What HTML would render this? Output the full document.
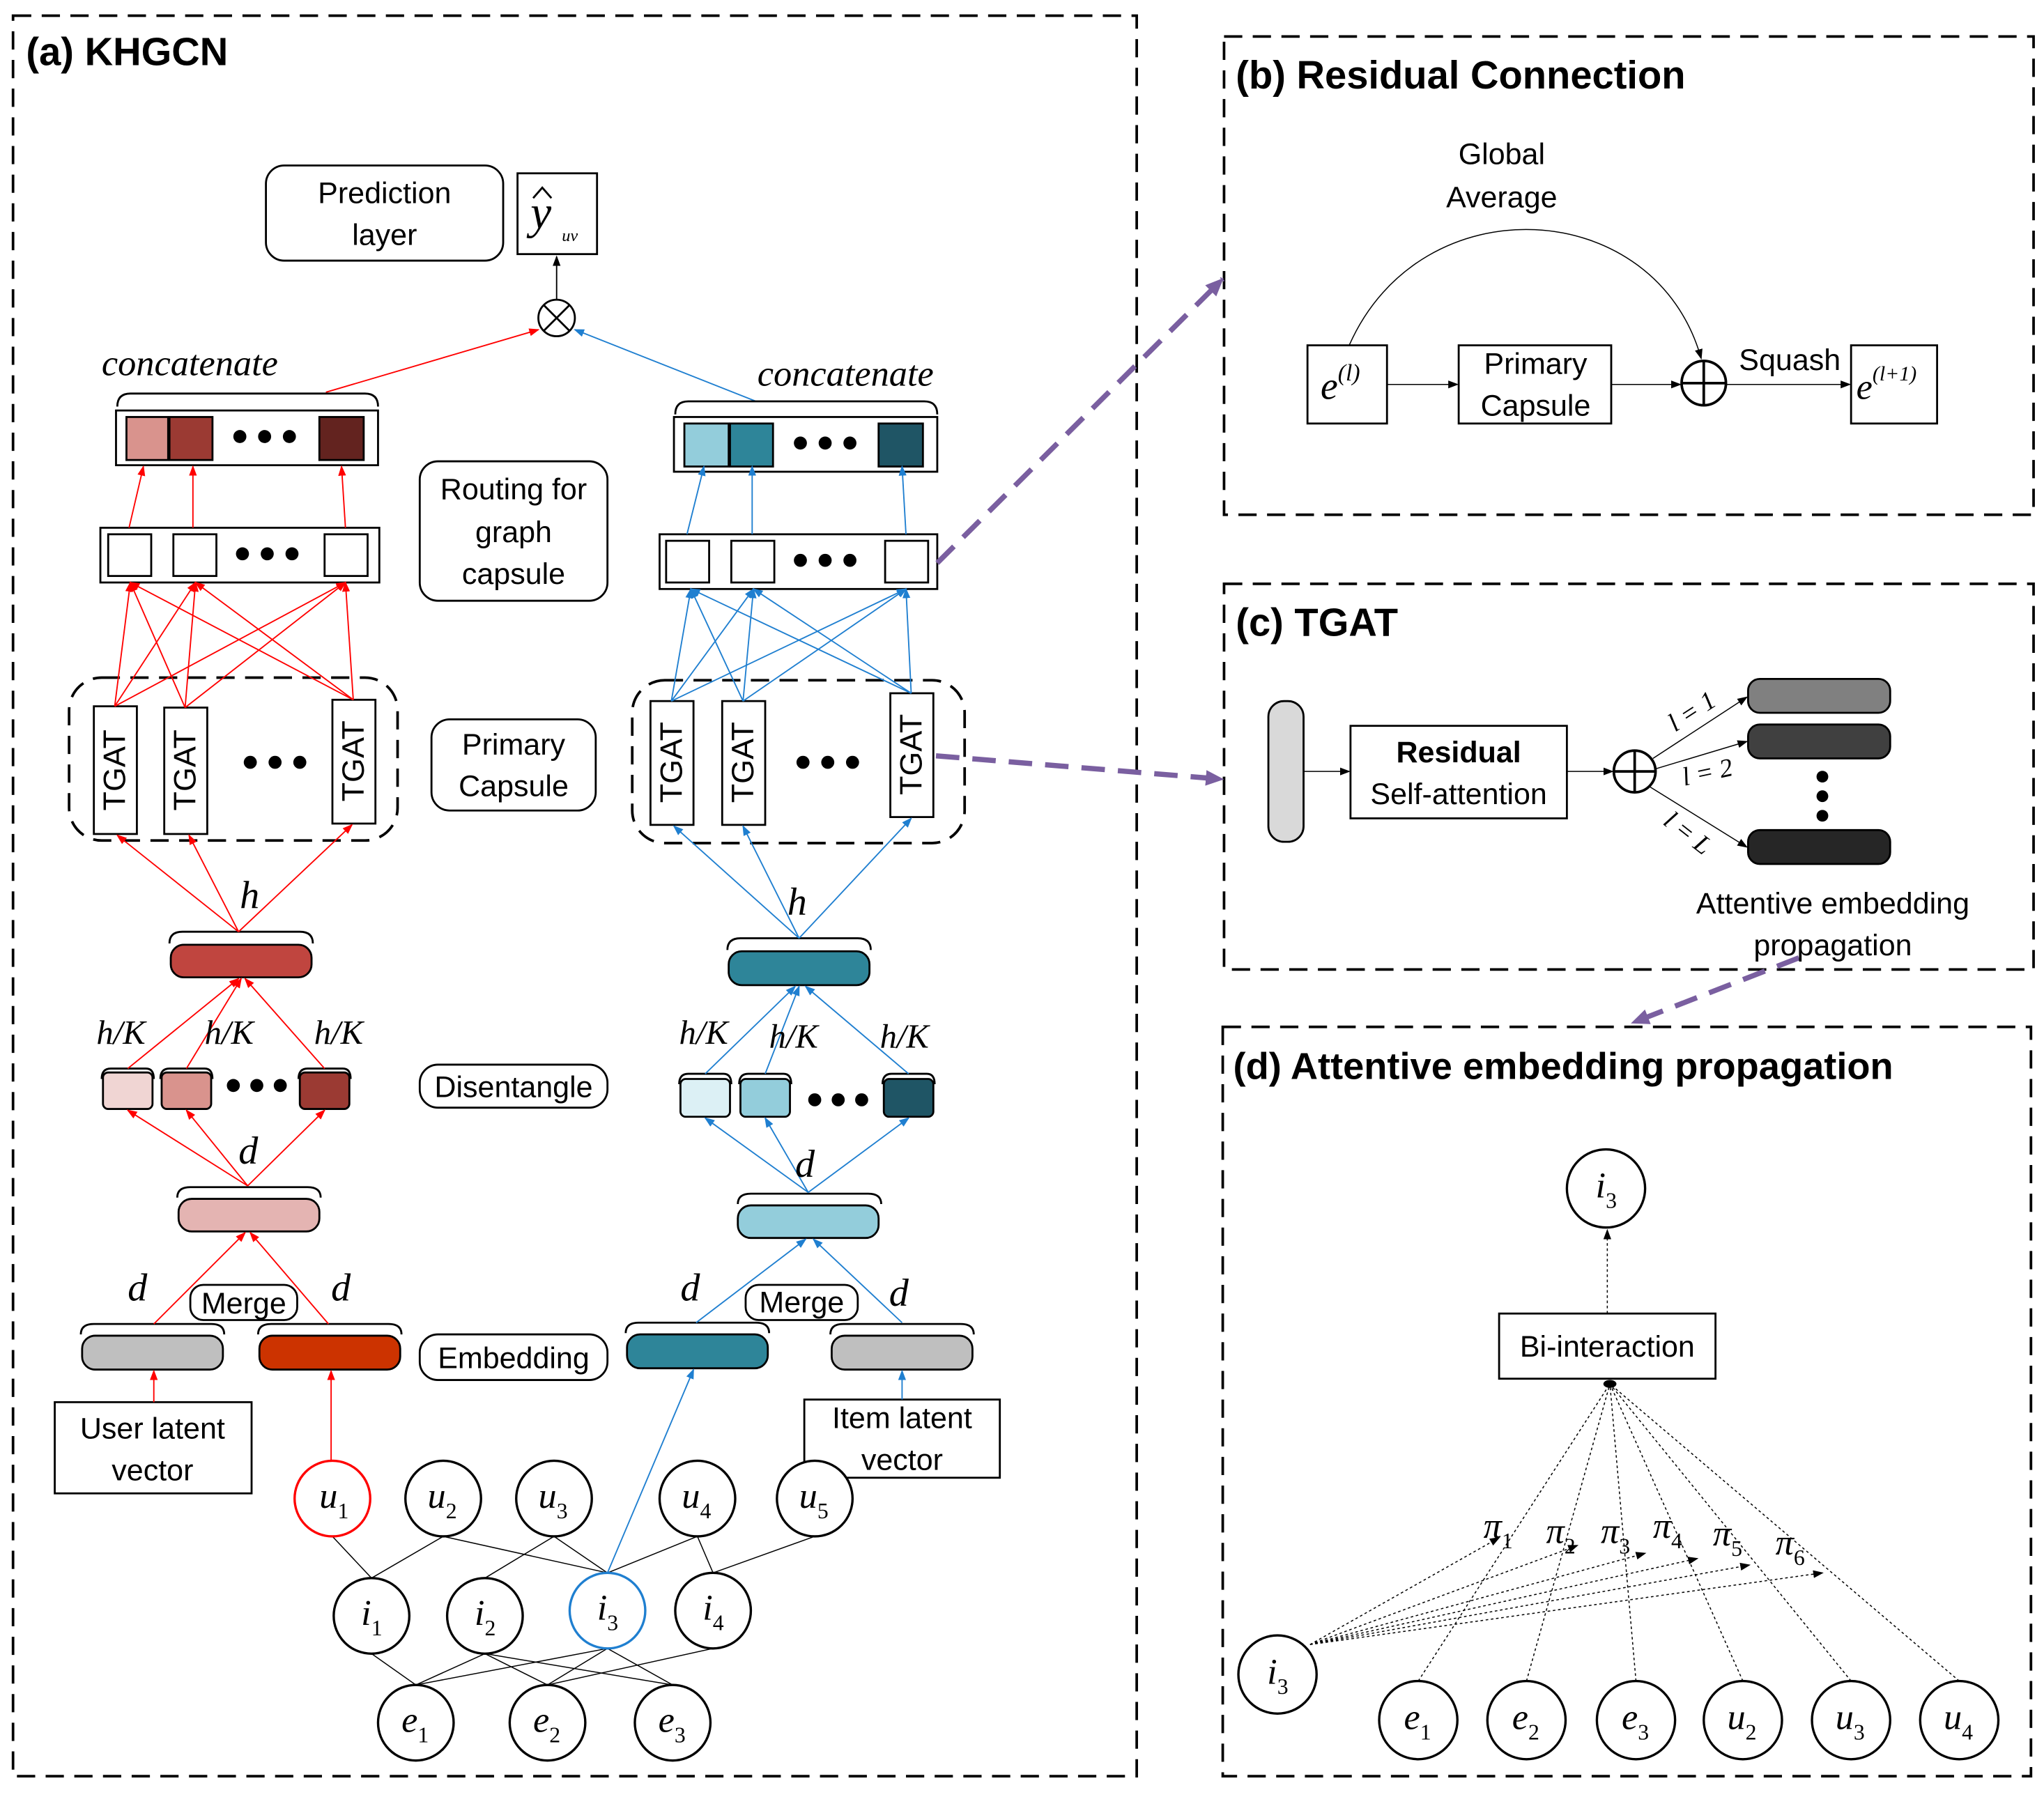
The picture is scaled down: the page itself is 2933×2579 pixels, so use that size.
<!DOCTYPE html>
<html><head><meta charset="utf-8"><style>
html,body{margin:0;padding:0;background:#fff}
svg{display:block}
.t{font-family:"Liberation Sans",sans-serif;fill:#000}
.m{font-family:"Liberation Serif",serif;font-style:italic;fill:#000}
.s{font-family:"Liberation Serif",serif;fill:#000}
</style></head><body>
<svg width="2933" height="2579" viewBox="0 0 1568 1379" preserveAspectRatio="none" xmlns="http://www.w3.org/2000/svg">
<defs>
<marker id="ar" markerWidth="8" markerHeight="8" refX="7" refY="4" orient="auto" markerUnits="userSpaceOnUse"><path d="M0,1 L8,4 L0,7Z" fill="#f00"/></marker>
<marker id="ab" markerWidth="8" markerHeight="8" refX="7" refY="4" orient="auto" markerUnits="userSpaceOnUse"><path d="M0,1 L8,4 L0,7Z" fill="#1f7fd0"/></marker>
<marker id="ak" markerWidth="8" markerHeight="8" refX="7" refY="4" orient="auto" markerUnits="userSpaceOnUse"><path d="M0,1 L8,4 L0,7Z" fill="#000"/></marker>
<marker id="ap" markerWidth="16" markerHeight="16" refX="13" refY="8" orient="auto" markerUnits="userSpaceOnUse"><path d="M0,2 L14,8 L0,14Z" fill="#7a5fa0"/></marker>
</defs>
<rect width="1568" height="1379" fill="#fff"/>
<g fill="none" stroke="#000" stroke-width="2" stroke-dasharray="14,8">
<rect x="10" y="12" width="862" height="1351"/>
<rect x="939" y="28" width="621" height="367"/>
<rect x="939" y="448" width="621" height="296"/>
<rect x="938" y="788" width="620" height="575"/>
<rect x="53" y="520" width="252" height="125" rx="25"/>
<rect x="485" y="522" width="255" height="125" rx="25"/>
</g>
<g font-weight="bold">
<text class="t" x="20" y="50" font-size="30">(a) KHGCN</text>
<text class="t" x="948" y="68" font-size="30">(b) Residual Connection</text>
<text class="t" x="948" y="488" font-size="30">(c) TGAT</text>
<text class="t" x="946" y="828" font-size="29">(d) Attentive embedding propagation</text>
</g>

<g fill="#fff" stroke="#000" stroke-width="1.5">
<rect x="204" y="127" width="182" height="73" rx="14"/>
<rect x="397" y="133" width="61" height="62"/>
<rect x="322" y="354" width="144" height="107" rx="14"/>
<rect x="331" y="552" width="126" height="70" rx="14"/>
<rect x="322" y="817" width="144" height="33" rx="14"/>
<rect x="322" y="1024" width="144" height="35" rx="14"/>
<rect x="146" y="986" width="82" height="27" rx="10"/>
<rect x="572" y="986" width="86" height="27" rx="10"/>
<rect x="42" y="1076" width="151" height="70"/>
<rect x="617" y="1074" width="150" height="60"/>
</g>
<g class="t" font-size="23" text-anchor="middle">
<text x="295" y="156">Prediction</text><text x="295" y="188">layer</text>
<text x="394" y="383">Routing for</text><text x="394" y="416">graph</text><text x="394" y="448">capsule</text>
<text x="394" y="579">Primary</text><text x="394" y="611">Capsule</text>
<text x="394" y="842">Disentangle</text>
<text x="394" y="1050">Embedding</text>
<text x="187" y="1008">Merge</text><text x="615" y="1007">Merge</text>
<text x="117" y="1104">User latent</text><text x="117" y="1136">vector</text>
<text x="692" y="1096">Item latent</text><text x="692" y="1128">vector</text>
</g>
<text class="m" x="407" y="175" font-size="36">y</text>
<path d="M409,152 L416,144 L423,152" fill="none" stroke="#000" stroke-width="1.5"/>
<text class="m" x="431" y="185" font-size="13">uv</text>
<line x1="427" y1="230" x2="427" y2="197" stroke="#000" marker-end="url(#ak)"/>
<circle cx="427" cy="244" r="14" fill="#fff" stroke="#000" stroke-width="1.5"/>
<path d="M417,234 L437,254 M437,234 L417,254" stroke="#000" stroke-width="1.5"/>
<line x1="250" y1="301" x2="413" y2="253" stroke="#f00" marker-end="url(#ar)"/>
<line x1="580" y1="308" x2="441" y2="253" stroke="#1f7fd0" marker-end="url(#ab)"/>

<text class="m" x="78" y="288" font-size="28">concatenate</text>
<text class="m" x="581" y="296" font-size="28">concatenate</text>
<g fill="none" stroke="#000" stroke-width="1.5">
<path d="M90,312 Q90,302 100,302 L280,302 Q290,302 290,312"/>
<path d="M518,318 Q518,308 528,308 L709,308 Q719,308 719,318"/>
<path d="M130,724 Q130,715 140,715 L230,715 Q240,715 240,724"/>
<path d="M558,729 Q558,720 568,720 L658,720 Q668,720 668,729"/>
<path d="M136,919 Q136,911 146,911 L236,911 Q246,911 246,919"/>
<path d="M566,924 Q566,916 576,916 L666,916 Q676,916 676,924"/>
<path d="M62,1024 Q62,1016 72,1016 L162,1016 Q172,1016 172,1024"/>
<path d="M198,1024 Q198,1016 208,1016 L298,1016 Q308,1016 308,1024"/>
<path d="M480,1023 Q480,1015 490,1015 L580,1015 Q590,1015 590,1023"/>
<path d="M637,1024 Q637,1016 647,1016 L737,1016 Q747,1016 747,1024"/>
<path d="M78,828 Q78,820 85,820 L112,820 Q118,820 118,828"/>
<path d="M123,828 Q123,820 130,820 L157,820 Q163,820 163,828"/>
<path d="M229,828 Q229,820 236,820 L263,820 Q269,820 269,828"/>
<path d="M521,832 Q521,824 528,824 L555,824 Q561,824 561,832"/>
<path d="M567,832 Q567,824 574,824 L601,824 Q607,824 607,832"/>
<path d="M677,832 Q677,824 684,824 L711,824 Q717,824 717,832"/>
</g>
<g stroke="#000" stroke-width="1.5">
<rect x="89" y="315" width="201" height="42" fill="#fff"/>
<rect x="97" y="320" width="32" height="33" fill="#d9938d"/>
<rect x="130" y="320" width="33" height="33" fill="#9b3a33"/>
<rect x="245" y="320" width="34" height="33" fill="#63231f"/>
<rect x="517" y="320" width="202" height="42" fill="#fff"/>
<rect x="525" y="325" width="34" height="33" fill="#93cddb"/>
<rect x="560" y="325" width="33" height="33" fill="#2e8599"/>
<rect x="674" y="325" width="34" height="33" fill="#1f5565"/>
<rect x="77" y="405" width="214" height="42" fill="#fff"/>
<rect x="83" y="410" width="33" height="32" fill="#fff"/>
<rect x="133" y="410" width="33" height="32" fill="#fff"/>
<rect x="249" y="410" width="33" height="32" fill="#fff"/>
<rect x="506" y="410" width="213" height="42" fill="#fff"/>
<rect x="511" y="415" width="33" height="32" fill="#fff"/>
<rect x="561" y="415" width="33" height="32" fill="#fff"/>
<rect x="679" y="415" width="33" height="32" fill="#fff"/>
<rect x="72" y="542" width="33" height="98" fill="#fff"/>
<rect x="126" y="543" width="33" height="97" fill="#fff"/>
<rect x="255" y="537" width="33" height="95" fill="#fff"/>
<rect x="499" y="538" width="33" height="95" fill="#fff"/>
<rect x="554" y="538" width="33" height="95" fill="#fff"/>
<rect x="683" y="532" width="33" height="95" fill="#fff"/>
<rect x="131" y="725" width="108" height="25" rx="10" fill="#c0453f"/>
<rect x="559" y="730" width="108" height="26" rx="10" fill="#2e8599"/>
<rect x="79" y="823" width="38" height="28" rx="4" fill="#f0d5d3"/>
<rect x="124" y="823" width="38" height="28" rx="4" fill="#d9938d"/>
<rect x="230" y="823" width="38" height="28" rx="4" fill="#9b3a33"/>
<rect x="522" y="828" width="38" height="29" rx="4" fill="#dcf0f5"/>
<rect x="568" y="828" width="38" height="29" rx="4" fill="#93cddb"/>
<rect x="678" y="828" width="38" height="29" rx="4" fill="#1f5565"/>
<rect x="137" y="920" width="108" height="25" rx="10" fill="#e4b4b2"/>
<rect x="566" y="925" width="108" height="25" rx="10" fill="#93cddb"/>
<rect x="63" y="1025" width="108" height="26" rx="10" fill="#bfbfbf"/>
<rect x="199" y="1025" width="108" height="26" rx="10" fill="#cc3300"/>
<rect x="481" y="1024" width="108" height="26" rx="10" fill="#2e8599"/>
<rect x="638" y="1025" width="108" height="26" rx="10" fill="#bfbfbf"/>
</g>
<g fill="#000">
<circle cx="184" cy="335" r="5"/><circle cx="203" cy="335" r="5"/><circle cx="222" cy="335" r="5"/>
<circle cx="614" cy="340" r="5"/><circle cx="633" cy="340" r="5"/><circle cx="652" cy="340" r="5"/>
<circle cx="186" cy="425" r="5"/><circle cx="205" cy="425" r="5"/><circle cx="224" cy="425" r="5"/>
<circle cx="614" cy="430" r="5"/><circle cx="633" cy="430" r="5"/><circle cx="652" cy="430" r="5"/>
<circle cx="192" cy="585" r="5"/><circle cx="211" cy="585" r="5"/><circle cx="230" cy="585" r="5"/>
<circle cx="616" cy="585" r="5"/><circle cx="635" cy="585" r="5"/><circle cx="654" cy="585" r="5"/>
<circle cx="179" cy="833" r="5"/><circle cx="197" cy="833" r="5"/><circle cx="215" cy="833" r="5"/>
<circle cx="625" cy="844" r="5"/><circle cx="643" cy="844" r="5"/><circle cx="661" cy="844" r="5"/>
</g>
<g class="t" font-size="24" text-anchor="middle">
<text transform="translate(96,591) rotate(-90)">TGAT</text>
<text transform="translate(150,591) rotate(-90)">TGAT</text>
<text transform="translate(279,584) rotate(-90)">TGAT</text>
<text transform="translate(523,585) rotate(-90)">TGAT</text>
<text transform="translate(578,585) rotate(-90)">TGAT</text>
<text transform="translate(707,579) rotate(-90)">TGAT</text>
</g>
<g stroke="#f00" stroke-width="1" marker-end="url(#ar)">
<line x1="99" y1="405" x2="110" y2="358"/><line x1="148" y1="405" x2="148" y2="358"/><line x1="265" y1="405" x2="262" y2="358"/>
<line x1="88" y1="542" x2="100" y2="447"/><line x1="88" y1="542" x2="150" y2="447"/><line x1="88" y1="542" x2="265" y2="447"/>
<line x1="142" y1="543" x2="100" y2="447"/><line x1="142" y1="543" x2="150" y2="447"/><line x1="142" y1="543" x2="265" y2="447"/>
<line x1="271" y1="537" x2="100" y2="447"/><line x1="271" y1="537" x2="150" y2="447"/><line x1="271" y1="537" x2="265" y2="447"/>
<line x1="183" y1="715" x2="90" y2="641"/><line x1="183" y1="715" x2="145" y2="641"/><line x1="183" y1="715" x2="270" y2="633"/>
<line x1="98" y1="820" x2="183" y2="751"/><line x1="143" y1="820" x2="185" y2="751"/><line x1="249" y1="820" x2="188" y2="751"/>
<line x1="190" y1="910" x2="98" y2="852"/><line x1="190" y1="910" x2="143" y2="852"/><line x1="190" y1="910" x2="249" y2="852"/>
<line x1="118" y1="1016" x2="188" y2="946"/><line x1="252" y1="1016" x2="192" y2="946"/>
<line x1="118" y1="1076" x2="118" y2="1052"/><line x1="254" y1="1121" x2="254" y2="1052"/>
</g>
<g stroke="#1f7fd0" stroke-width="1" marker-end="url(#ab)">
<line x1="527" y1="410" x2="540" y2="358"/><line x1="577" y1="410" x2="577" y2="358"/><line x1="695" y1="410" x2="692" y2="358"/>
<line x1="515" y1="538" x2="530" y2="452"/><line x1="515" y1="538" x2="578" y2="452"/><line x1="515" y1="538" x2="695" y2="452"/>
<line x1="570" y1="538" x2="530" y2="452"/><line x1="570" y1="538" x2="578" y2="452"/><line x1="570" y1="538" x2="695" y2="452"/>
<line x1="699" y1="532" x2="530" y2="452"/><line x1="699" y1="532" x2="578" y2="452"/><line x1="699" y1="532" x2="695" y2="452"/>
<line x1="613" y1="720" x2="517" y2="634"/><line x1="613" y1="720" x2="570" y2="634"/><line x1="613" y1="720" x2="699" y2="628"/>
<line x1="541" y1="824" x2="610" y2="757"/><line x1="587" y1="824" x2="613" y2="757"/><line x1="697" y1="824" x2="618" y2="757"/>
<line x1="620" y1="915" x2="541" y2="858"/><line x1="620" y1="915" x2="587" y2="858"/><line x1="620" y1="915" x2="697" y2="858"/>
<line x1="534" y1="1015" x2="618" y2="951"/><line x1="692" y1="1015" x2="624" y2="951"/>
<line x1="692" y1="1074" x2="692" y2="1052"/><line x1="466" y1="1207" x2="532" y2="1051"/>
</g>
<g class="m" font-size="30">
<text x="184" y="697">h</text><text x="604" y="702">h</text>
<text x="183" y="893">d</text><text x="610" y="903">d</text>
<text x="98" y="998">d</text><text x="254" y="998">d</text><text x="522" y="998">d</text><text x="682" y="1002">d</text>
</g>
<g class="m" font-size="26">
<text x="74" y="801">h/K</text><text x="157" y="801">h/K</text><text x="241" y="801">h/K</text>
<text x="521" y="801">h/K</text><text x="590" y="804">h/K</text><text x="675" y="804">h/K</text>
</g>
<g stroke="#000" stroke-width="0.8">
<line x1="255" y1="1179" x2="285" y2="1211"/><line x1="340" y1="1179" x2="285" y2="1211"/><line x1="340" y1="1179" x2="466" y2="1207"/>
<line x1="425" y1="1179" x2="372" y2="1211"/><line x1="425" y1="1179" x2="466" y2="1207"/><line x1="535" y1="1179" x2="466" y2="1207"/>
<line x1="535" y1="1179" x2="547" y2="1207"/><line x1="625" y1="1179" x2="547" y2="1207"/>
<line x1="285" y1="1269" x2="319" y2="1293"/><line x1="372" y1="1269" x2="319" y2="1293"/><line x1="372" y1="1269" x2="420" y2="1293"/><line x1="372" y1="1269" x2="516" y2="1293"/>
<line x1="466" y1="1265" x2="319" y2="1293"/><line x1="466" y1="1265" x2="420" y2="1293"/><line x1="466" y1="1265" x2="516" y2="1293"/><line x1="547" y1="1265" x2="420" y2="1293"/>
</g>
<g fill="#fff" stroke="#000" stroke-width="1.8">
<circle cx="255" cy="1150" r="29" stroke="#f00"/><circle cx="340" cy="1150" r="29"/><circle cx="425" cy="1150" r="29"/><circle cx="535" cy="1150" r="29"/><circle cx="625" cy="1150" r="29"/>
<circle cx="285" cy="1240" r="29"/><circle cx="372" cy="1240" r="29"/><circle cx="466" cy="1236" r="29" stroke="#1f7fd0"/><circle cx="547" cy="1236" r="29"/>
<circle cx="319" cy="1322" r="29"/><circle cx="420" cy="1322" r="29"/><circle cx="516" cy="1322" r="29"/>
</g>
<g class="m" font-size="28">
<text x="245" y="1157">u<tspan font-style="normal" font-size="17" dy="8">1</tspan></text>
<text x="328" y="1157">u<tspan font-style="normal" font-size="17" dy="8">2</tspan></text>
<text x="413" y="1157">u<tspan font-style="normal" font-size="17" dy="8">3</tspan></text>
<text x="523" y="1157">u<tspan font-style="normal" font-size="17" dy="8">4</tspan></text>
<text x="613" y="1157">u<tspan font-style="normal" font-size="17" dy="8">5</tspan></text>
<text x="277" y="1247">i<tspan font-style="normal" font-size="17" dy="8">1</tspan></text>
<text x="364" y="1247">i<tspan font-style="normal" font-size="17" dy="8">2</tspan></text>
<text x="458" y="1243">i<tspan font-style="normal" font-size="17" dy="8">3</tspan></text>
<text x="539" y="1243">i<tspan font-style="normal" font-size="17" dy="8">4</tspan></text>
<text x="308" y="1329">e<tspan font-style="normal" font-size="17" dy="8">1</tspan></text>
<text x="409" y="1329">e<tspan font-style="normal" font-size="17" dy="8">2</tspan></text>
<text x="505" y="1329">e<tspan font-style="normal" font-size="17" dy="8">3</tspan></text>
</g>

<g stroke="#7a5fa0" stroke-width="4" stroke-dasharray="18,10" fill="none" marker-end="url(#ap)">
<line x1="719" y1="432" x2="938" y2="214"/>
<line x1="718" y1="580" x2="938" y2="598"/>
<line x1="1380" y1="735" x2="1252" y2="785"/>
</g>

<g fill="#fff" stroke="#000" stroke-width="1.5">
<rect x="1003" y="265" width="61" height="60"/><rect x="1119" y="265" width="117" height="60"/><rect x="1420" y="265" width="66" height="60"/>
</g>
<g class="t" font-size="23" text-anchor="middle">
<text x="1152" y="126">Global</text><text x="1152" y="159">Average</text>
<text x="1178" y="287">Primary</text><text x="1178" y="319">Capsule</text>
<text x="1373" y="284">Squash</text>
</g>
<text class="m" x="1013" y="306" font-size="30">e<tspan font-size="18" dy="-14">(l)</tspan></text>
<text class="m" x="1424" y="306" font-size="28">e<tspan font-size="16" dy="-14">(l+1)</tspan></text>
<path d="M1035,265 C1090,140 1270,150 1305,275" fill="none" stroke="#000" stroke-width="0.8" marker-end="url(#ak)"/>
<line x1="1064" y1="295" x2="1118" y2="295" stroke="#000" stroke-width="0.8" marker-end="url(#ak)"/>
<line x1="1236" y1="295" x2="1289" y2="295" stroke="#000" stroke-width="0.8" marker-end="url(#ak)"/>
<line x1="1324" y1="295" x2="1419" y2="295" stroke="#000" stroke-width="0.8" marker-end="url(#ak)"/>
<circle cx="1307" cy="294" r="17" fill="#fff" stroke="#000" stroke-width="2"/>
<path d="M1290,294 H1324 M1307,277 V311" stroke="#000" stroke-width="2"/>

<rect x="973" y="538" width="27" height="108" rx="12" fill="#d9d9d9" stroke="#000" stroke-width="1.5"/>
<rect x="1036" y="557" width="166" height="71" fill="#fff" stroke="#000" stroke-width="1.5"/>
<text class="t" x="1119" y="585" font-size="23" font-weight="bold" text-anchor="middle">Residual</text>
<text class="t" x="1119" y="617" font-size="23" text-anchor="middle">Self-attention</text>
<line x1="1000" y1="592" x2="1035" y2="592" stroke="#000" stroke-width="0.8" marker-end="url(#ak)"/>
<line x1="1202" y1="592" x2="1237" y2="592" stroke="#000" stroke-width="0.8" marker-end="url(#ak)"/>
<circle cx="1254" cy="592" r="16" fill="#fff" stroke="#000" stroke-width="2"/>
<path d="M1238,592 H1270 M1254,576 V608" stroke="#000" stroke-width="2"/>
<g stroke="#000" stroke-width="0.8" marker-end="url(#ak)">
<line x1="1268" y1="582" x2="1340" y2="535"/><line x1="1270" y1="590" x2="1340" y2="569"/><line x1="1266" y1="604" x2="1340" y2="650"/>
</g>
<g stroke="#000" stroke-width="1.5">
<rect x="1341" y="521" width="109" height="26" rx="9" fill="#808080"/>
<rect x="1341" y="556" width="109" height="26" rx="9" fill="#404040"/>
<rect x="1341" y="637" width="109" height="26" rx="9" fill="#262626"/>
</g>
<circle cx="1398" cy="596" r="4.5"/><circle cx="1398" cy="611" r="4.5"/><circle cx="1398" cy="626" r="4.5"/>
<g class="m" font-size="20">
<text transform="translate(1285,562) rotate(-33)">l = 1</text>
<text transform="translate(1292,603) rotate(-12)">l = 2</text>
<text transform="translate(1275,632) rotate(38)">l = L</text>
</g>
<text class="t" x="1406" y="701" font-size="23" text-anchor="middle">Attentive embedding</text>
<text class="t" x="1406" y="733" font-size="23" text-anchor="middle">propagation</text>

<rect x="1150" y="1008" width="166" height="50" fill="#fff" stroke="#000" stroke-width="1.5"/>
<text class="t" x="1233" y="1041" font-size="23" text-anchor="middle">Bi-interaction</text>
<line x1="1233" y1="1008" x2="1233" y2="944" stroke="#000" stroke-width="0.8" stroke-dasharray="2,2" marker-end="url(#ak)"/>
<g stroke="#000" stroke-width="0.8" stroke-dasharray="2,2">
<line x1="1088" y1="1290" x2="1235" y2="1062"/><line x1="1171" y1="1290" x2="1235" y2="1062"/><line x1="1255" y1="1290" x2="1235" y2="1062"/>
<line x1="1337" y1="1290" x2="1235" y2="1062"/><line x1="1420" y1="1290" x2="1235" y2="1062"/><line x1="1503" y1="1290" x2="1235" y2="1062"/>
</g>
<g stroke="#000" stroke-width="0.8" stroke-dasharray="2,2" marker-end="url(#ak)">
<line x1="1005" y1="1262" x2="1150" y2="1180"/><line x1="1005" y1="1262" x2="1210" y2="1186"/><line x1="1005" y1="1262" x2="1262" y2="1192"/>
<line x1="1005" y1="1262" x2="1302" y2="1196"/><line x1="1005" y1="1262" x2="1342" y2="1201"/><line x1="1005" y1="1262" x2="1398" y2="1207"/>
</g>
<ellipse cx="1235" cy="1062" rx="5" ry="3"/>
<g fill="#fff" stroke="#000" stroke-width="1.8">
<circle cx="1232" cy="912" r="30"/><circle cx="980" cy="1285" r="30"/>
<circle cx="1088" cy="1320" r="30"/><circle cx="1171" cy="1320" r="30"/><circle cx="1255" cy="1320" r="30"/>
<circle cx="1337" cy="1320" r="30"/><circle cx="1420" cy="1320" r="30"/><circle cx="1503" cy="1320" r="30"/>
</g>
<g class="m" font-size="28">
<text x="1224" y="919">i<tspan font-style="normal" font-size="17" dy="8">3</tspan></text>
<text x="972" y="1292">i<tspan font-style="normal" font-size="17" dy="8">3</tspan></text>
<text x="1077" y="1327">e<tspan font-style="normal" font-size="17" dy="8">1</tspan></text>
<text x="1160" y="1327">e<tspan font-style="normal" font-size="17" dy="8">2</tspan></text>
<text x="1244" y="1327">e<tspan font-style="normal" font-size="17" dy="8">3</tspan></text>
<text x="1325" y="1327">u<tspan font-style="normal" font-size="17" dy="8">2</tspan></text>
<text x="1408" y="1327">u<tspan font-style="normal" font-size="17" dy="8">3</tspan></text>
<text x="1491" y="1327">u<tspan font-style="normal" font-size="17" dy="8">4</tspan></text>
<text x="1138" y="1180">π<tspan font-style="normal" font-size="17" dy="8">1</tspan></text>
<text x="1186" y="1184">π<tspan font-style="normal" font-size="17" dy="8">2</tspan></text>
<text x="1228" y="1184">π<tspan font-style="normal" font-size="17" dy="8">3</tspan></text>
<text x="1268" y="1180">π<tspan font-style="normal" font-size="17" dy="8">4</tspan></text>
<text x="1314" y="1186">π<tspan font-style="normal" font-size="17" dy="8">5</tspan></text>
<text x="1362" y="1193">π<tspan font-style="normal" font-size="17" dy="8">6</tspan></text>
</g>
</svg>
</body></html>
